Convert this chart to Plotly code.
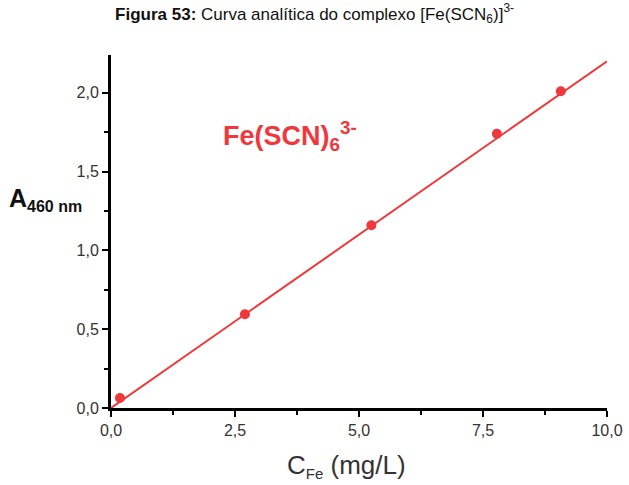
import plotly.graph_objects as go

# Data
conc_mg_L = [0.18, 2.70, 5.25, 7.78, 9.07]
absorbance = [0.063, 0.595, 1.16, 1.74, 2.01]
fit_x = [0.0, 10.0]
fit_y = [0.0, 2.20]

RED = "#f0383c"
FONT = "Liberation Sans, Arial, sans-serif"

fig = go.Figure()
fig.add_trace(go.Scatter(x=fit_x, y=fit_y, mode="lines",
                         line=dict(color=RED, width=2), showlegend=False,
                         hoverinfo="skip", cliponaxis=False))
fig.add_trace(go.Scatter(x=conc_mg_L, y=absorbance, mode="markers",
                         marker=dict(color=RED, size=10), showlegend=False,
                         cliponaxis=False))

fig.update_layout(
    width=629, height=485,
    margin=dict(l=111, r=22, t=55, b=77),
    paper_bgcolor="white", plot_bgcolor="white",
    separators=",.",
    font=dict(family=FONT, color="#333333"),
    title=dict(text="<b>Figura 53:</b> Curva analítica do complexo [Fe(SCN<sub>6</sub>)]<sup>3-</sup>",
               x=0.5, xanchor="center", y=0.972, yanchor="middle",
               xref="container", font=dict(size=17, color="#111111", family=FONT)),
    xaxis=dict(range=[0, 10], tickvals=[0, 2.5, 5, 7.5, 10], tickformat=".1f",
               automargin=False,
               showgrid=False, zeroline=False, showline=True, linecolor="black",
               linewidth=3, ticks="outside", ticklen=6, tickwidth=2, tickcolor="black",
               tickfont=dict(size=16, color="#333333"),
               minor=dict(tickvals=[1.25, 3.75, 6.25, 8.75], ticks="outside",
                          ticklen=4, tickwidth=2, tickcolor="black")),
    yaxis=dict(range=[0, 2.24], tickvals=[0, 0.5, 1.0, 1.5, 2.0], tickformat=".1f",
               automargin=False,
               showgrid=False, zeroline=False, showline=True, linecolor="black",
               linewidth=3, ticks="outside", ticklen=6, tickwidth=2, tickcolor="black",
               tickfont=dict(size=16, color="#333333"),
               minor=dict(tickvals=[0.25, 0.75, 1.25, 1.75], ticks="outside",
                          ticklen=4, tickwidth=2, tickcolor="black")),
)

# y-axis label (horizontal)
fig.add_annotation(xref="paper", yref="paper", x=-0.21, y=0.59,
                   xanchor="left", yanchor="middle", showarrow=False,
                   text="<b>A<sub><span style='font-size:16px'>460 nm</span></sub></b>",
                   font=dict(size=25, color="#111111", family=FONT))
# x-axis label
fig.add_annotation(xref="paper", yref="paper", x=0.35, y=-0.165,
                   xanchor="left", yanchor="middle", showarrow=False,
                   text="C<sub><span style='font-size:15px'>Fe</span></sub> (mg/L)",
                   font=dict(size=26, color="#333333", family=FONT))
# series label
fig.add_annotation(xref="paper", yref="paper", x=0.222, y=0.77,
                   xanchor="left", yanchor="middle", showarrow=False,
                   text="<b>Fe(SCN)<sub>6</sub><sup>3-</sup></b>",
                   font=dict(size=27, color=RED, family=FONT))

fig.write_html("out.html", post_script="document.body.style.margin='0';",
               config={"displayModeBar": False})
